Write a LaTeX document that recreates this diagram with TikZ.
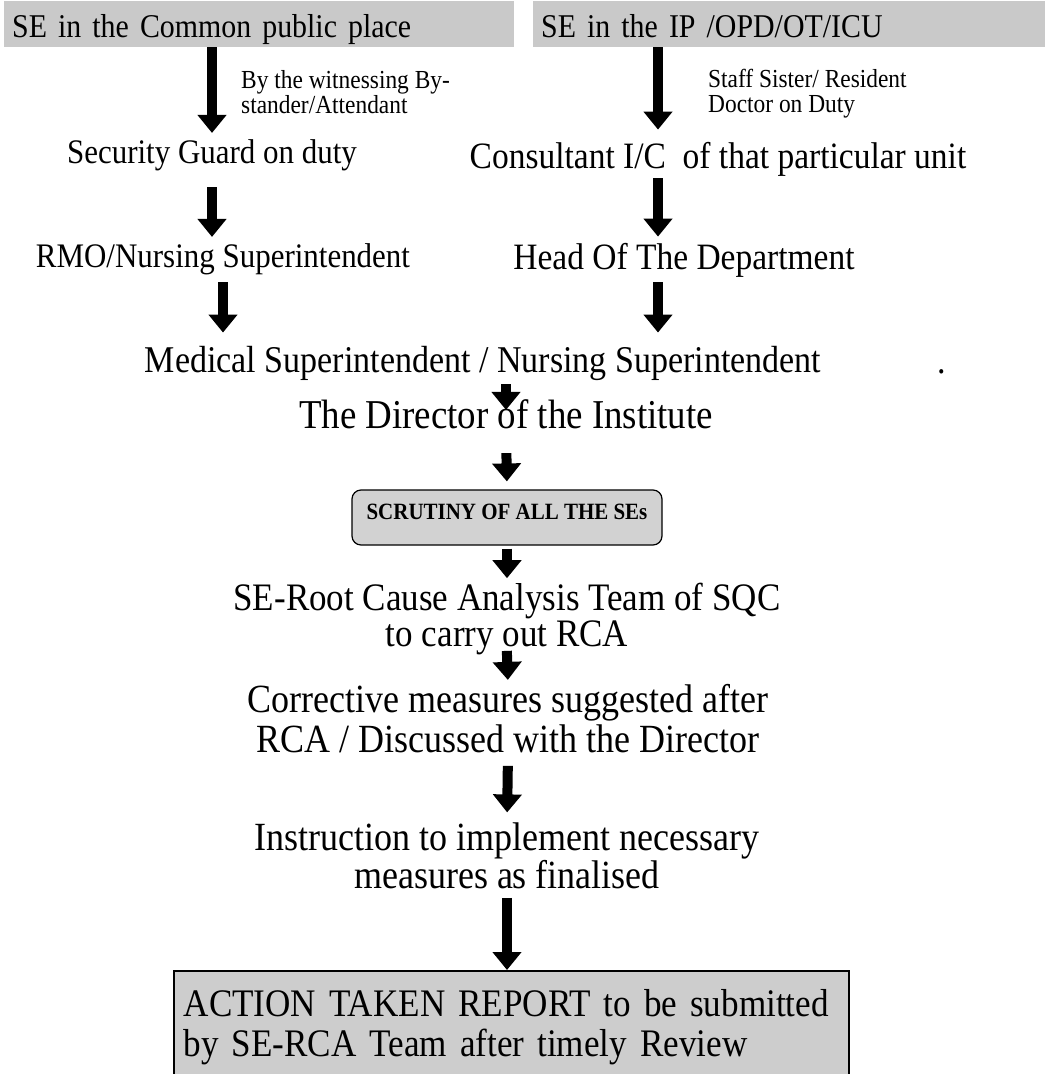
\documentclass[tikz,border=0pt]{standalone}
\usepackage{fontspec}
\setmainfont{Liberation Serif}[FakeStretch=0.9]
\usetikzlibrary{arrows.meta, calc}
\definecolor{boxgray}{RGB}{201,201,201}
\definecolor{scrgray}{RGB}{210,210,210}
\definecolor{atrgray}{RGB}{205,205,205}

\begin{document}
\begin{tikzpicture}[x=1pt, y=-1pt,
  txt/.style={inner sep=0pt, align=center},
  sebox/.style={fill=boxgray, anchor=north west, inner xsep=8pt, inner ysep=0pt,
    minimum height=46pt, text height=26pt, text depth=0pt, align=left,
    font=\fontsize{33.2}{38}\selectfont},
  note/.style={inner sep=0pt, anchor=north west, align=left, font=\fontsize{26}{25}\selectfont},
  flowarrow/.style={line width=10pt, -{Triangle[length=18pt, width=28pt]}}]
  \useasboundingbox (0,0) rectangle (1045,1074);

  % TOP: where the SE happened
  \node[sebox, text width=494pt] (boxL) at (4,1) {SE in the Common public place};
  \node[sebox, text width=496pt] (boxR) at (533,1) {SE in the IP /OPD/OT/ICU};
  \node[note] (wit) at (241,70) {By the witnessing By-\\stander/Attendant};
  \node[note] (staff) at (708,69) {Staff Sister/ Resident\\Doctor on Duty};
  \coordinate (rcol) at (658,0);

  % LEFT COLUMN
  \node[txt, anchor=base, font=\fontsize{34.4}{38}\selectfont] (guard) at (212,163) {Security Guard on duty};
  \node[txt, anchor=base, font=\fontsize{34.4}{38}\selectfont] (rmo) at (223,267) {RMO/Nursing Superintendent};

  % RIGHT COLUMN
  \node[txt, anchor=base, font=\fontsize{37.2}{40}\selectfont] (cons) at (718,168) {Consultant I/C \ of that particular unit};
  \node[txt, anchor=base, font=\fontsize{37.2}{40}\selectfont] (head) at (684,269) {Head Of The Department};

  % MIDDLE: one chain down to the report
  \node[txt, anchor=base, font=\fontsize{37.8}{40}\selectfont] (med) at (483,372) {Medical Superintendent / Nursing Superintendent};
  \node[txt, anchor=base, font=\fontsize{37.8}{40}\selectfont] (dot) at (942,373) {.};
  \node[txt, anchor=base, font=\fontsize{41}{44}\selectfont] (dir) at (506,428) {The Director of the Institute};
  \node[draw, fill=scrgray, line width=1.2pt, rounded corners=9pt, minimum width=310pt,
    minimum height=55pt, inner sep=0pt, text height=14pt, text depth=11pt,
    font=\bfseries\fontsize{23.3}{26}\selectfont] (scr) at (507,517.5) {SCRUTINY OF ALL THE SEs};
  \node[txt, anchor=north, font=\fontsize{38.9}{36}\selectfont] (root) at (507,583.2)
    {SE-Root Cause Analysis Team of SQC\\to carry out RCA};
  \node[txt, anchor=north, font=\fontsize{40}{40}\selectfont] (corr) at (508,684.4)
    {Corrective measures suggested after\\RCA / Discussed with the Director};
  \node[txt, anchor=north, font=\fontsize{40}{38}\selectfont] (instr) at (507,822.4)
    {Instruction to implement necessary\\measures as finalised};
  \node[draw, fill=atrgray, line width=1.5pt, anchor=north west, inner xsep=10pt, inner ysep=0pt,
    text width=655pt, minimum height=112pt, align=left,
    font=\fontsize{39}{40}\selectfont] (act) at (173,970)
    {ACTION TAKEN REPORT to be submitted\\by SE-RCA Team after timely Review};

  % arrows
  \draw[flowarrow, shorten >=6pt] (boxL.south -| guard) -- (guard.north);
  \draw[flowarrow, shorten <=16.5pt, shorten >=6pt] (guard.south) -- (rmo.north -| guard);
  \draw[flowarrow, shorten <=7.5pt, shorten >=13pt] (rmo.south) -- (med.north -| rmo);
  \draw[flowarrow, shorten >=12pt] (boxR.south -| rcol) -- (cons.north -| rcol);
  \draw[flowarrow, shorten <=2pt, shorten >=6pt] (cons.south -| rcol) -- (head.north -| rcol);
  \draw[flowarrow, shorten <=5pt, shorten >=13pt] (head.south -| rcol) -- (med.north -| rcol);
  \draw[flowarrow, shorten <=4pt, shorten >=-11pt] (med.south -| dir) -- (dir.north);
  \draw[flowarrow, shorten <=24.5pt, shorten >=8pt] (dir.south) -- (scr.north);
  \draw[flowarrow, shorten <=3pt, shorten >=5pt] (scr.south) -- (root.north);
  \draw[flowarrow, shorten <=-4.5pt, shorten >=4.5pt] (root.south) -- (corr.north);
  \draw[flowarrow, shorten <=12.5pt, shorten >=10pt] (corr.south) -- (instr.north);
  \draw[flowarrow, shorten <=9pt] (instr.south) -- (act.north -| instr);
\end{tikzpicture}
\end{document}
